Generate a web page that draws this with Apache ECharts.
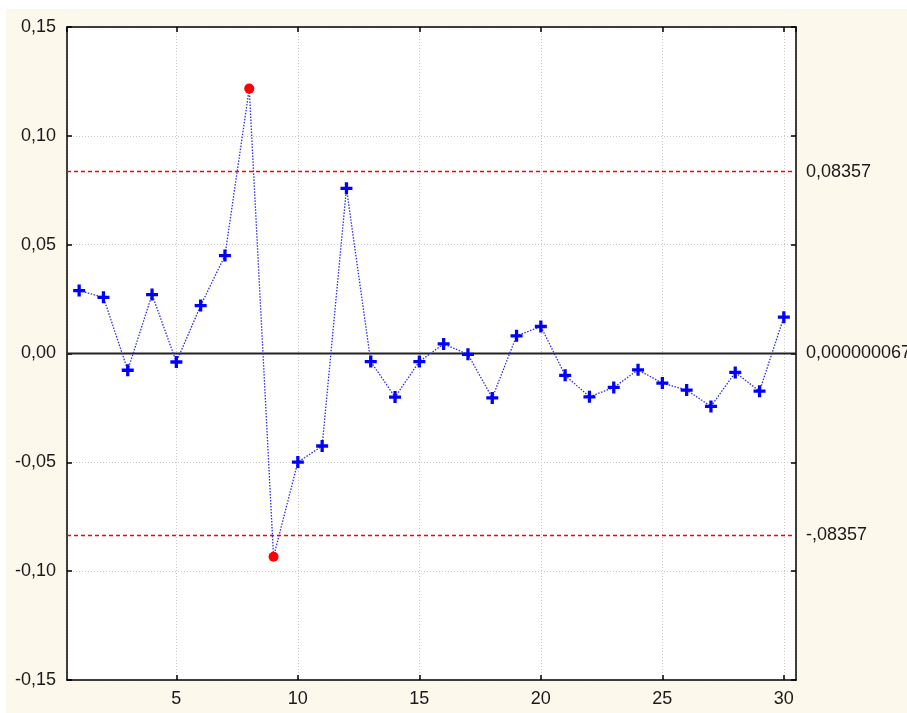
<!DOCTYPE html>
<html>
<head>
<meta charset="utf-8">
<script src="https://cdn.jsdelivr.net/npm/echarts@6/dist/echarts.min.js"></script>
<style>
html,body{margin:0;padding:0;background:#fff;}
#c{width:907px;height:713px;}
</style>
</head>
<body>
<div id="c"></div>
<script>
var xValues = [1,2,3,4,5,6,7,8,9,10,11,12,13,14,15,16,17,18,19,20,21,22,23,24,25,26,27,28,29,30];
var yValues = [0.0289,0.0258,-0.0077,0.0271,-0.0039,0.0220,0.0450,0.1217,-0.0934,-0.0499,
               -0.0425,0.0759,-0.0037,-0.0200,-0.0037,0.0044,-0.0004,-0.0204,0.0081,0.0124,
               -0.0100,-0.0199,-0.0156,-0.0075,-0.0136,-0.0168,-0.0243,-0.0087,-0.0173,0.0167];
var outlierX = [8, 9];
var xRange = [0.5, 30.5];
var upperLimit = 0.08357;
var lowerLimit = -0.08357;
var centerValue = 0.000000067;
var upperLabel = '0,08357';
var lowerLabel = '-,08357';
var centerLabel = '0,000000067';
var yTickLabels = ['-0,15','-0,10','-0,05','0,00','0,05','0,10','0,15'];

var FONT = 'Liberation Sans, Arial, sans-serif';
var plus = 'path://M4,0 L7,0 L7,4 L11,4 L11,7 L7,7 L7,11 L4,11 L4,7 L0,7 L0,4 L4,4 Z';

var seriesData = xValues.map(function (x, i) {
  var d = { value: [x, yValues[i]] };
  if (outlierX.indexOf(x) >= 0) {
    d.symbol = 'circle';
    d.symbolSize = 10;
    d.itemStyle = { color: '#ff0000' };
  }
  return d;
});

function yFmt(v) {
  var idx = Math.round((v + 0.15) / 0.05);
  return yTickLabels[idx] !== undefined ? yTickLabels[idx] : '';
}

function hLine(value, label, color, type, width, z) {
  return {
    type: 'line',
    color: color,
    data: [[xRange[0], value], [xRange[1], value]],
    symbol: 'none',
    silent: true,
    clip: false,
    z: z,
    itemStyle: { color: color },
    lineStyle: { color: color, type: type, width: width, opacity: 1 },
    endLabel: { show: true, formatter: label, distance: 10, color: '#1a1a1a', fontFamily: FONT, fontSize: 18 }
  };
}

var axisLineStyle = { color: '#000', width: 1.5 };

var chart = echarts.init(document.getElementById('c'), null, { renderer: 'canvas' });
chart.setOption({
  backgroundColor: '#ffffff',
  animation: false,
  graphic: [{
    type: 'rect', z: -10, silent: true,
    shape: { x: 6, y: 9, width: 910, height: 710 },
    style: { fill: '#fdf8ec' }
  }],
  grid: { left: 67, right: 111, top: 27, bottom: 33, show: true, backgroundColor: '#ffffff', borderWidth: 0 },
  xAxis: [{
    type: 'value', min: xRange[0], max: xRange[1], minInterval: 5, maxInterval: 5, splitNumber: 6,
    position: 'bottom',
    axisLine: { show: true, onZero: false, lineStyle: axisLineStyle },
    axisTick: { show: true, inside: true, length: 5, lineStyle: axisLineStyle },
    axisLabel: { color: '#1a1a1a', fontFamily: FONT, fontSize: 18, margin: 10,
      showMinLabel: false, showMaxLabel: false,
      formatter: function (v) { return (Math.abs(v % 5) < 1e-9) ? String(v) : ''; } },
    splitLine: { show: true, lineStyle: { color: '#c8c8c8', type: [1, 2], width: 1 } }
  }, {
    type: 'value', min: xRange[0], max: xRange[1], minInterval: 5, maxInterval: 5, splitNumber: 6,
    position: 'top',
    axisLine: { show: true, onZero: false, lineStyle: axisLineStyle },
    axisTick: { show: true, inside: true, length: 5, lineStyle: axisLineStyle },
    axisLabel: { show: false },
    splitLine: { show: false }
  }],
  yAxis: [{
    type: 'value', min: -0.15, max: 0.15, interval: 0.05,
    position: 'left',
    axisLine: { show: true, onZero: false, lineStyle: axisLineStyle },
    axisTick: { show: true, inside: true, length: 5, lineStyle: axisLineStyle },
    axisLabel: { color: '#1a1a1a', fontFamily: FONT, fontSize: 18, margin: 11, formatter: yFmt },
    splitLine: { show: true, lineStyle: { color: '#c8c8c8', type: [1, 2], width: 1 } }
  }, {
    type: 'value', min: -0.15, max: 0.15, interval: 0.05,
    position: 'right',
    axisLine: { show: true, onZero: false, lineStyle: axisLineStyle },
    axisTick: { show: true, inside: true, length: 5, lineStyle: axisLineStyle },
    axisLabel: { show: false },
    splitLine: { show: false }
  }],
  series: [
    hLine(upperLimit, upperLabel, '#ff0000', [4, 3], 1.5, 2),
    hLine(centerValue, centerLabel, '#222222', 'solid', 1.8, 2),
    hLine(lowerLimit, lowerLabel, '#ff0000', [4, 3], 1.5, 2),
    {
      type: 'line',
      data: seriesData,
      symbol: plus,
      symbolSize: 12,
      silent: true,
      itemStyle: { color: '#0000ff' },
      lineStyle: { color: '#2a2aff', width: 1.3, type: [1.5, 1.5] },
      z: 5
    }
  ]
});
</script>
</body>
</html>
